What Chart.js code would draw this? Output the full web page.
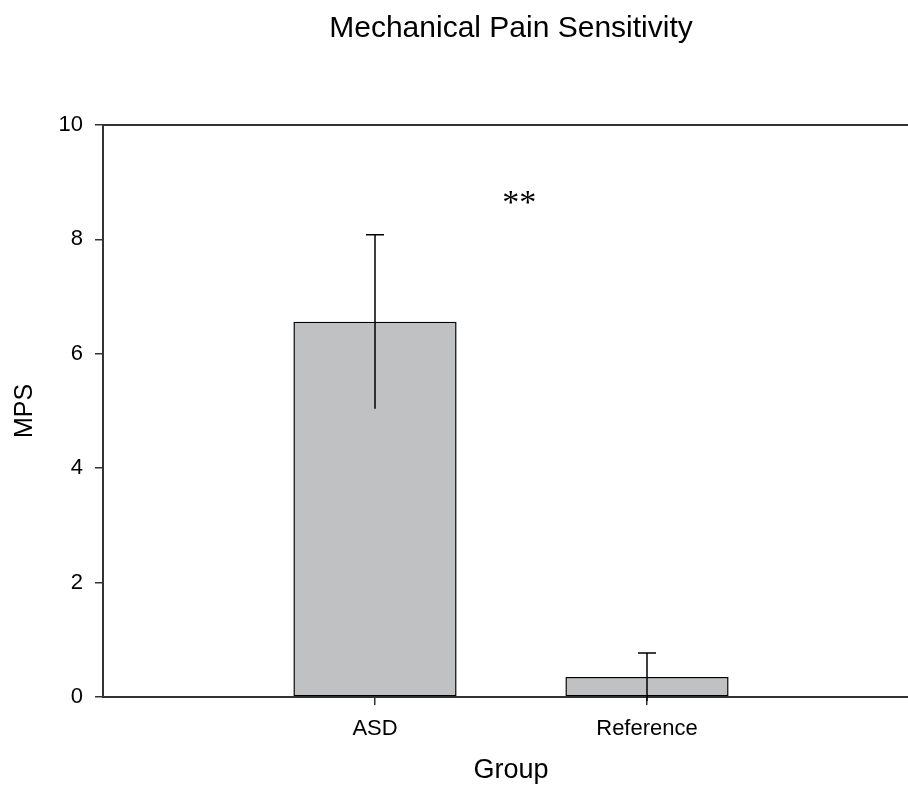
<!DOCTYPE html>
<html>
<head>
<meta charset="utf-8">
<script src="https://cdn.jsdelivr.net/npm/chart.js@4.4.1/dist/chart.umd.min.js"></script>
<style>
  html, body { margin: 0; padding: 0; background: #fff; overflow: hidden; }
  #wrap { width: 1022px; height: 788px; }
</style>
</head>
<body>
<div id="wrap"><canvas id="mpsChart"></canvas></div>
<script>
// dados
const groups = ['ASD', 'Reference'];
const mps = [6.56, 0.35];
const mpsErr = [1.52, 0.42];
const yMin = 0, yMax = 10, yStep = 2;
const chartTitle = 'Mechanical Pain Sensitivity';
const sigText = '**';
const sigAt = { x: 1.53, y: 8.72 };

const FONT = '"Liberation Sans", Arial, sans-serif';
const AXIS = '#333333';

// título, moldura superior, barras de erro e marca de significância
const extras = {
    id: 'extras',
    afterDatasetsDraw(chart) {
        const { ctx, scales: { x, y } } = chart;
        const a = chart.chartArea;
        ctx.save();
        ctx.strokeStyle = '#000';
        ctx.lineWidth = 1.5;
        mps.forEach((v, i) => {
            const px = x.getPixelForValue(i + 1);
            const top = y.getPixelForValue(v + mpsErr[i]);
            const bot = y.getPixelForValue(v - mpsErr[i]);
            ctx.beginPath();
            ctx.moveTo(px, bot);
            ctx.lineTo(px, top);
            ctx.moveTo(px - 9, top);
            ctx.lineTo(px + 9, top);
            ctx.stroke();
        });
        ctx.strokeStyle = AXIS;
        ctx.lineWidth = 2;
        ctx.beginPath();
        ctx.moveTo(a.left, a.top);
        ctx.lineTo(a.right, a.top);
        ctx.stroke();

        ctx.fillStyle = '#000';
        ctx.textAlign = 'center';
        ctx.textBaseline = 'middle';
        ctx.font = '34px "Liberation Serif", "Times New Roman", serif';
        ctx.fillText(sigText, x.getPixelForValue(sigAt.x), y.getPixelForValue(sigAt.y) + 6);

        ctx.font = '30px ' + FONT;
        ctx.fillText(chartTitle, (a.left + a.right) / 2, 29);
        ctx.restore();
    }
};

const ctx = document.getElementById('mpsChart').getContext('2d');
const chart = new Chart(ctx, {
    type: 'bar',
    data: {
        datasets: [{
            data: mps.map((v, i) => ({ x: i + 1, y: v })),
            backgroundColor: '#c0c1c3',
            borderColor: '#000',
            borderWidth: 1.5,
            borderSkipped: false,
            barPercentage: 0.6,
            categoryPercentage: 1
        }]
    },
    options: {
        responsive: true,
        maintainAspectRatio: false,
        devicePixelRatio: 1,
        animation: false,
        layout: { padding: { left: 0, right: 103, top: 125, bottom: 0 } },
        plugins: {
            legend: { display: false },
            tooltip: { enabled: false },
            title: { display: false }
        },
        scales: {
            x: {
                type: 'linear',
                offset: false,
                min: 0,
                max: 3,
                afterBuildTicks: axis => { axis.ticks = groups.map((g, i) => ({ value: i + 1 })); },
                afterFit: scale => { scale.height = 91; },
                ticks: {
                    color: '#000',
                    font: { family: FONT, size: 22 },
                    padding: 11,
                    maxRotation: 0,
                    autoSkip: false,
                    callback: v => groups[v - 1]
                },
                grid: { offset: false, drawOnChartArea: false, drawTicks: true, tickLength: 8, color: AXIS, lineWidth: 1.5 },
                border: { display: true, color: AXIS, width: 2 },
                title: {
                    display: true,
                    text: 'Group',
                    color: '#000',
                    font: { family: FONT, size: 27 },
                    padding: { top: 0, bottom: 1 }
                }
            },
            y: {
                min: yMin,
                max: yMax,
                afterFit: scale => { scale.width = 103; },
                ticks: {
                    stepSize: yStep,
                    color: '#000',
                    font: { family: FONT, size: 22 },
                    padding: 12
                },
                grid: { drawOnChartArea: false, drawTicks: true, tickLength: 8, color: AXIS, lineWidth: 1.5 },
                border: { display: true, color: AXIS, width: 2 },
                title: {
                    display: true,
                    text: 'MPS',
                    color: '#000',
                    font: { family: FONT, size: 25 },
                    padding: { top: 10, bottom: 0 }
                }
            }
        }
    },
    plugins: [extras]
});
</script>
</body>
</html>
